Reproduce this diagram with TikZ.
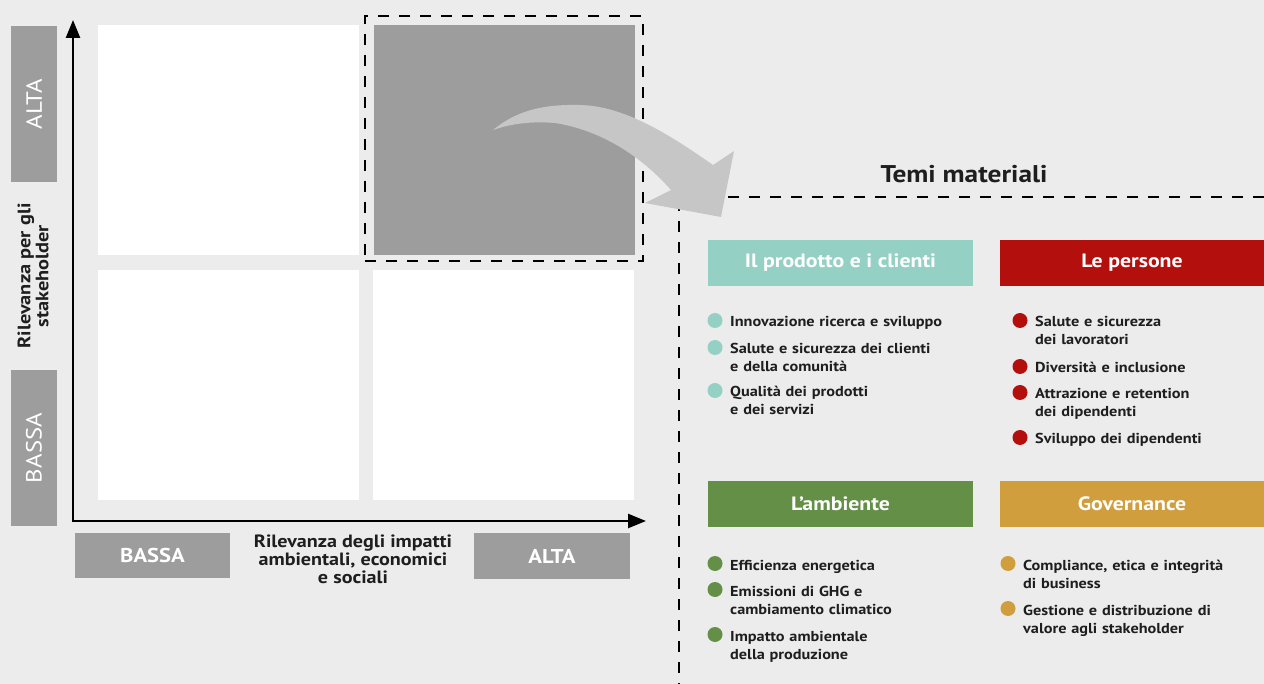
\documentclass[tikz,border=0pt]{standalone}
\usepackage{fontspec}
\setmainfont{PT Sans}[FakeStretch=1.13]
\usetikzlibrary{arrows.meta}

\definecolor{sfondo}{HTML}{ECECEC}
\definecolor{grigio}{HTML}{9D9D9D}
\definecolor{grigiochiaro}{HTML}{C6C6C6}
\definecolor{testo}{HTML}{1E1E1E}
\definecolor{verdeacqua}{HTML}{94D0C4}
\definecolor{rosso}{HTML}{B3100D}
\definecolor{verde}{HTML}{639046}
\definecolor{oro}{HTML}{D09E3C}

\tikzstyle{quad} = [inner sep=0, outer sep=0, minimum width=261pt, minimum height=230pt]
\tikzstyle{tratto} = [draw=black, line width=2.5pt, dash pattern=on 11pt off 10pt]
\tikzstyle{asse} = [draw=black, line width=2.5pt, {Triangle[length=18pt,width=14pt]}-{Triangle[length=18pt,width=14pt]}]
\tikzstyle{etichetta} = [fill=grigio, text=white, inner sep=0, font=\fontsize{22}{24}\selectfont]
\tikzstyle{intestazione} = [text=white, inner sep=0, minimum height=46pt, font=\fontsize{19.3}{22}\selectfont\bfseries]
\tikzstyle{voce} = [anchor=base west, inner sep=0, text width=250pt, align=left, text=testo, font=\fontsize{14.4}{18}\selectfont\bfseries]
\tikzstyle{punto} = [circle, inner sep=0, minimum size=15pt]

\begin{document}
\begin{tikzpicture}[x=1pt, y=-1pt]
    \fill[sfondo] (0,0) rectangle (1264,684);
    \useasboundingbox (0,0) rectangle (1264,684);

    % matrice
    \node[quad, fill=white] (q11) at (228.5,140) {};
    \node[quad, fill=grigio] (q12) at (504.5,140) {};
    \node[quad, fill=white] (q21) at (228.5,385) {};
    \node[quad, fill=white] (q22) at (503.5,385) {};
    \node[tratto, minimum width=278pt, minimum height=245pt, inner sep=0] (cornice) at (504,138.5) {};

    % assi
    \coordinate (origine) at (73,521);
    \coordinate (ytip) at (73,20);
    \coordinate (xtip) at (646,521);
    \path [asse] (ytip) -- (origine) -- (xtip);

    \node[etichetta, rotate=90, minimum width=156pt, minimum height=46pt] (altaY) at (34,104) {ALTA};
    \node[etichetta, rotate=90, minimum width=156pt, minimum height=46pt] (bassaY) at (34,448) {BASSA};
    \node[etichetta, font=\fontsize{20}{22}\selectfont\bfseries, minimum width=155pt, minimum height=45pt] (bassaX) at (152.5,555.5) {BASSA};
    \node[etichetta, font=\fontsize{20}{22}\selectfont\bfseries, minimum width=156pt, minimum height=46pt] (altaX) at (552,556) {ALTA};

    \node[rotate=90, align=center, inner sep=0, text=testo, font=\fontsize{18}{18}\selectfont\bfseries] (titoloY) at (33,276) {Rilevanza per gli\\stakeholder};
    \node[align=center, inner sep=0, text=testo, font=\fontsize{17.8}{18}\selectfont\bfseries] (titoloX) at (353,559) {Rilevanza degli impatti\\ambientali, economici\\e sociali};

    % temi materiali
    \coordinate (angolo) at (679,197);
    \draw[tratto] (1264,197) -- (angolo) -- (679,684);
    \node[anchor=base, inner sep=0, text=testo, font=\fontsize{24.2}{26}\selectfont\bfseries] (temi) at (964,183) {Temi materiali};

    \node[intestazione, fill=verdeacqua, minimum width=265pt] (prodotto) at (840.5,263) {Il prodotto e i clienti};
    \node[intestazione, fill=rosso, minimum width=264pt] (persone) at (1132,263) {Le persone};
    \node[intestazione, fill=verde, minimum width=265pt] (ambiente) at (840.5,504) {L’ambiente};
    \node[intestazione, fill=oro, minimum width=264pt] (governance) at (1132,504) {Governance};

    \node[punto, fill=verdeacqua] (p11) at (715,320.5) {};
    \node[voce] (v11) at (730,327) {Innovazione ricerca e sviluppo};
    \node[punto, fill=verdeacqua] (p12) at (715,347.5) {};
    \node[voce] (v12) at (730,354) {Salute e sicurezza dei clienti\\e della comunità};
    \node[punto, fill=verdeacqua] (p13) at (715,390.5) {};
    \node[voce] (v13) at (730,397) {Qualità dei prodotti\\e dei servizi};

    \node[punto, fill=rosso] (p21) at (1020,320.5) {};
    \node[voce] (v21) at (1035,327) {Salute e sicurezza\\dei lavoratori};
    \node[punto, fill=rosso] (p22) at (1020,366.5) {};
    \node[voce] (v22) at (1035,373) {Diversità e inclusione};
    \node[punto, fill=rosso] (p23) at (1020,392.5) {};
    \node[voce] (v23) at (1035,399) {Attrazione e retention\\dei dipendenti};
    \node[punto, fill=rosso] (p24) at (1020,437.5) {};
    \node[voce] (v24) at (1035,444) {Sviluppo dei dipendenti};

    \node[punto, fill=verde] (p31) at (715,563.5) {};
    \node[voce] (v31) at (730,570) {Efficienza energetica};
    \node[punto, fill=verde] (p32) at (715,589.5) {};
    \node[voce] (v32) at (730,596) {Emissioni di GHG e\\cambiamento climatico};
    \node[punto, fill=verde] (p33) at (715,634.5) {};
    \node[voce] (v33) at (730,641) {Impatto ambientale\\della produzione};

    \node[punto, fill=oro] (p41) at (1008,563.5) {};
    \node[voce] (v41) at (1023,570) {Compliance, etica e integrità\\di business};
    \node[punto, fill=oro] (p42) at (1008,608.5) {};
    \node[voce] (v42) at (1023,615) {Gestione e distribuzione di\\valore agli stakeholder};

    % freccia curva
    \fill[grigiochiaro] (493,130) .. controls (515,112) and (540,104) .. (580,105)
        .. controls (625,106) and (670,135) .. (713,165) -- (734,151) -- (721,217)
        -- (645,203) -- (671,190) .. controls (640,155) and (600,130) .. (555,123)
        .. controls (530,121) and (510,124) .. (493,130) -- cycle;

\end{tikzpicture}
\end{document}
